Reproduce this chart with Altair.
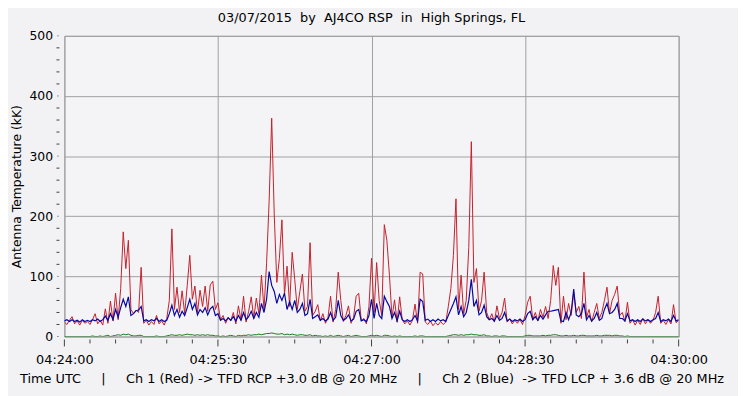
import altair as alt
import pandas as pd

# sample step of 1.5 s starting at 04:24:00 UTC
STEP = 1.5

red = [
    24, 20, 27, 33, 21, 26, 19, 27, 22, 25,
    20, 28, 38, 21, 27, 19, 46, 22, 59, 26,
    72, 28, 80, 174, 113, 160, 45, 38, 44, 40,
    115, 22, 27, 19, 25, 20, 35, 21, 26, 19,
    30, 60, 179, 45, 82, 40, 76, 38, 85, 135,
    62, 84, 40, 77, 50, 84, 42, 86, 92, 45,
    56, 28, 35, 22, 32, 26, 40, 21, 51, 27,
    67, 24, 42, 66, 30, 64, 38, 102, 45, 122,
    225, 363, 202, 90, 130, 194, 70, 117, 50, 140,
    95, 45, 75, 104, 42, 50, 156, 35, 42, 53,
    26, 38, 22, 32, 67, 24, 45, 107, 60, 25,
    35, 51, 22, 32, 67, 72, 26, 30, 21, 50,
    130, 40, 123, 60, 35, 186, 160, 102, 32, 61,
    24, 66, 28, 21, 26, 19, 27, 54, 22, 107,
    104, 24, 20, 26, 18, 23, 19, 25, 20, 24,
    50, 80, 135, 229, 45, 102, 38, 60, 148, 324,
    90, 113, 42, 60, 107, 40, 28, 38, 24, 51,
    30, 40, 64, 24, 29, 21, 27, 22, 28, 20,
    35, 57, 67, 28, 40, 26, 45, 32, 50, 30,
    60, 118, 85, 115, 22, 67, 28, 55, 35, 72,
    40, 50, 30, 107, 32, 45, 24, 40, 55, 30,
    40, 60, 82, 38, 60, 70, 84, 35, 40, 25,
    57, 22, 28, 19, 27, 20, 30, 21, 28, 22,
    27, 40, 67, 22, 27, 20, 28, 21, 53, 23, 27,
]

blue = [
    26, 28, 25, 28, 25, 27, 24, 28, 25, 27,
    25, 28, 26, 29, 25, 28, 34, 27, 38, 28,
    45, 32, 48, 62, 50, 66, 35, 38, 43, 44,
    50, 26, 28, 25, 28, 26, 30, 25, 28, 25,
    27, 38, 52, 35, 45, 32, 42, 35, 48, 62,
    45, 55, 36, 45, 40, 48, 36, 46, 50, 35,
    38, 27, 30, 26, 31, 27, 33, 26, 35, 27,
    40, 28, 33, 42, 30, 40, 32, 55, 40, 62,
    108, 85, 75, 55, 70, 60, 72, 45, 58, 45,
    60, 40, 45, 55, 35, 38, 62, 30, 33, 36,
    27, 30, 26, 29, 40, 27, 32, 60, 35, 27,
    30, 36, 26, 29, 42, 45, 26, 28, 25, 35,
    62, 30, 55, 35, 30, 67, 58, 50, 30, 40,
    26, 42, 28, 25, 28, 25, 28, 35, 26, 62,
    58, 27, 29, 25, 28, 25, 29, 26, 28, 25,
    35, 45, 55, 66, 36, 50, 33, 40, 60, 95,
    50, 60, 36, 40, 52, 33, 28, 30, 26, 35,
    27, 30, 40, 26, 29, 25, 28, 26, 29, 25,
    28, 38, 42, 28, 33, 27, 35, 29, 36, 42,
    42, 43, 44, 45, 26, 25, 40, 28, 40, 79,
    36, 33, 38, 55, 28, 35, 26, 30, 40, 27,
    30, 45, 55, 38, 40, 45, 55, 30, 30, 26,
    38, 26, 28, 25, 28, 25, 29, 26, 28, 25,
    28, 30, 40, 25, 28, 26, 29, 25, 35, 26, 28,
]

green = [
    0, 0, 0, 0, 0, 0, 0, 0, 0, 0,
    0, 1, 0, 0, 1, 0, 1, 2, 0, 1,
    2, 3, 2, 4, 3, 4, 2, 1, 1, 2,
    2, 0, 0, 0, 0, 0, 1, 0, 0, 0,
    1, 2, 3, 2, 2, 3, 2, 3, 4, 3,
    3, 2, 3, 2, 3, 2, 3, 2, 2, 1,
    1, 0, 1, 0, 1, 2, 1, 0, 2, 1,
    2, 2, 3, 2, 3, 3, 4, 3, 4, 5,
    5, 6, 5, 4, 4, 5, 3, 4, 3, 4,
    3, 2, 3, 3, 2, 2, 3, 1, 2, 1,
    1, 0, 1, 0, 2, 0, 1, 2, 1, 0,
    1, 2, 0, 1, 2, 1, 0, 0, 0, 1,
    2, 1, 2, 1, 0, 2, 2, 1, 0, 1,
    0, 1, 0, 0, 0, 0, 0, 1, 0, 1,
    1, 0, 0, 0, 0, 0, 0, 0, 0, 0,
    1, 2, 3, 3, 2, 3, 2, 3, 3, 4,
    3, 3, 2, 2, 3, 1, 1, 0, 1, 1,
    0, 1, 1, 0, 0, 0, 0, 0, 0, 0,
    1, 2, 2, 1, 1, 1, 1, 2, 1, 2,
    2, 3, 3, 2, 1, 1, 2, 1, 1, 2,
    1, 1, 2, 2, 1, 1, 1, 1, 2, 1,
    1, 2, 2, 2, 1, 2, 2, 1, 1, 0,
    1, 0, 0, 0, 0, 0, 0, 0, 0, 0,
    0, 0, 0, 0, 0, 0, 0, 0, 0, 0, 0,
]

tick_secs = [0, 90, 180, 270, 360]
tick_labels = ["04:24:00", "04:25:30", "04:27:00", "04:28:30", "04:30:00"]
minor_secs = [s for s in range(0, 361, 15) if s not in tick_secs]
y_minor = [v for v in range(0, 501, 20) if v % 100 != 0]
y_major = [0, 100, 200, 300, 400, 500]

NB = "\u00a0"
title_text = f"03/07/2015{NB} by{NB} AJ4CO RSP{NB} in{NB} High Springs, FL"
x_title = (f"Time UTC{NB*4} |{NB*4} Ch 1 (Red) -> TFD RCP +3.0 dB @ 20 MHz{NB*4} |"
           f"{NB*4} Ch 2 (Blue){NB} -> TFD LCP + 3.6 dB @ 20 MHz")

W, H = 621, 304
FONT = "DejaVu Sans"

df = pd.DataFrame({
    "t": [i * STEP for i in range(len(red))],
    "red": red,
    "blue": blue,
    "green": green,
})

label_expr = " : ".join(
    f"datum.value == {s} ? '{l}'" for s, l in zip(tick_secs, tick_labels)
) + " : ''"

xscale = alt.Scale(domain=[0, 360], nice=False, zero=False)
yscale = alt.Scale(domain=[0, 500], nice=False)

x_axis = alt.Axis(values=tick_secs, labelExpr=label_expr, grid=True, gridColor="#A0A0A0",
                  gridOpacity=1, ticks=False, domain=False, labelPadding=17,
                  labelFont=FONT, labelFontSize=13, labelColor="#000000",
                  title=x_title, titleFont=FONT, titleFontSize=13, titleFontWeight="normal",
                  titleColor="#000000", titlePadding=6, labelFlush=False)
y_axis = alt.Axis(values=y_major, grid=True, gridColor="#A0A0A0", gridOpacity=1,
                  ticks=False, domain=False, labelPadding=12, labelFont=FONT,
                  labelFontSize=12.5, labelColor="#000000",
                  title="Antenna Temperature (kK)", titleFont=FONT, titleFontSize=12.5,
                  titleFontWeight="normal", titleColor="#000000", titlePadding=6)

base = alt.Chart(df)

red_line = base.mark_line(color="#C41E2A", strokeWidth=1, clip=True).encode(
    x=alt.X("t:Q", scale=xscale, axis=x_axis),
    y=alt.Y("red:Q", scale=yscale, axis=y_axis),
)
blue_line = base.mark_line(color="#0808A0", strokeWidth=1.2, clip=True).encode(
    x=alt.X("t:Q", scale=xscale), y=alt.Y("blue:Q", scale=yscale))
green_line = base.mark_line(color="#1A7A1A", strokeWidth=1, clip=True).encode(
    x=alt.X("t:Q", scale=xscale), y=alt.Y("green:Q", scale=yscale))

major_x = alt.Chart(pd.DataFrame({"t": tick_secs})).mark_rule(color="#404040", strokeWidth=1).encode(
    x=alt.X("t:Q", scale=xscale), y=alt.value(H + 3), y2=alt.value(H + 10))
minor_x = alt.Chart(pd.DataFrame({"t": minor_secs})).mark_rule(color="#404040", strokeWidth=1).encode(
    x=alt.X("t:Q", scale=xscale), y=alt.value(H + 3), y2=alt.value(H + 7))
minor_y = alt.Chart(pd.DataFrame({"v": y_minor})).mark_rule(color="#404040", strokeWidth=1).encode(
    y=alt.Y("v:Q", scale=yscale), x=alt.value(-8), x2=alt.value(-5))
major_y = alt.Chart(pd.DataFrame({"v": y_major})).mark_rule(color="#404040", strokeWidth=1).encode(
    y=alt.Y("v:Q", scale=yscale), x=alt.value(-7), x2=alt.value(-6))

chart = alt.layer(
    red_line, blue_line, green_line, major_x, minor_x, minor_y, major_y
).properties(
    width=W, height=H,
    title=alt.Title(title_text, font=FONT, fontSize=13, fontWeight="normal", color="#000000",
                    anchor="middle", offset=5),
    autosize=alt.AutoSizeParams(type="none"),
    padding={"left": 57, "top": 26, "right": 60, "bottom": 58},
    background="#F2F2F4",
).configure_view(
    fill="#F4F4F7", stroke="#A0A0A0", strokeWidth=1,
)

chart.save("out.html", embed_options={"renderer": "svg", "actions": False})
